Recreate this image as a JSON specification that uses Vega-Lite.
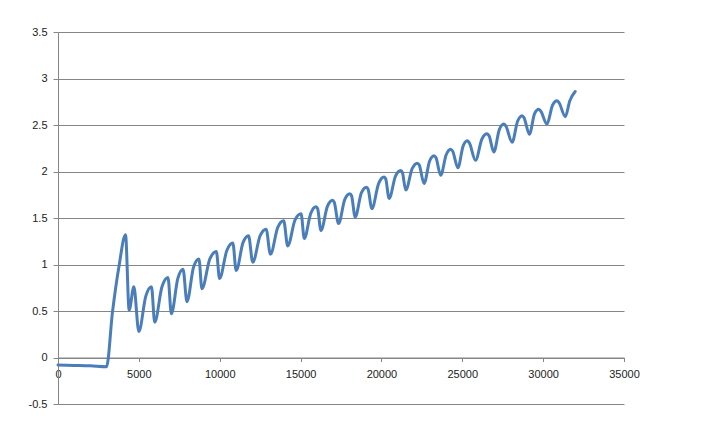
{
  "$schema": "https://vega.github.io/schema/vega-lite/v6.json",
  "width": 566,
  "height": 372,
  "autosize": "none",
  "padding": {"left": 58, "top": 32, "right": 78, "bottom": 19},
  "background": "white",
  "config": {
    "view": {"stroke": null},
    "font": "Liberation Sans",
    "axis": {"labelFont": "Liberation Sans", "labelFontSize": 11, "labelColor": "#222222"}
  },
  "data": {
    "values": [
      {"x": 0, "y": -0.08}, {"x": 1000, "y": -0.085}, {"x": 2000, "y": -0.09}, {"x": 3000, "y": -0.1},
      {"x": 3370, "y": 0.49}, {"x": 3780, "y": 0.99}, {"x": 4175, "y": 1.32},
      {"x": 4400, "y": 0.51}, {"x": 4690, "y": 0.76}, {"x": 5000, "y": 0.28},
      {"x": 5430, "y": 0.66}, {"x": 5780, "y": 0.76}, {"x": 5980, "y": 0.38},
      {"x": 6430, "y": 0.76}, {"x": 6800, "y": 0.86}, {"x": 7010, "y": 0.47},
      {"x": 7410, "y": 0.85}, {"x": 7730, "y": 0.95}, {"x": 7975, "y": 0.6},
      {"x": 8380, "y": 0.97}, {"x": 8715, "y": 1.06}, {"x": 8900, "y": 0.74},
      {"x": 9390, "y": 1.06}, {"x": 9790, "y": 1.14}, {"x": 9990, "y": 0.85},
      {"x": 10440, "y": 1.15}, {"x": 10810, "y": 1.23}, {"x": 11020, "y": 0.935},
      {"x": 11440, "y": 1.235}, {"x": 11780, "y": 1.31}, {"x": 12045, "y": 1.025},
      {"x": 12500, "y": 1.31}, {"x": 12870, "y": 1.38}, {"x": 13135, "y": 1.11},
      {"x": 13590, "y": 1.4}, {"x": 13955, "y": 1.47}, {"x": 14205, "y": 1.2},
      {"x": 14660, "y": 1.48}, {"x": 15030, "y": 1.545}, {"x": 15230, "y": 1.28},
      {"x": 15630, "y": 1.55}, {"x": 15955, "y": 1.62}, {"x": 16055, "y": 1.6}, {"x": 16260, "y": 1.365},
      {"x": 16660, "y": 1.625}, {"x": 16980, "y": 1.69}, {"x": 17080, "y": 1.67}, {"x": 17350, "y": 1.44},
      {"x": 17735, "y": 1.7}, {"x": 18050, "y": 1.76}, {"x": 18150, "y": 1.74}, {"x": 18380, "y": 1.51},
      {"x": 18760, "y": 1.77}, {"x": 19075, "y": 1.83}, {"x": 19175, "y": 1.81}, {"x": 19410, "y": 1.6},
      {"x": 19825, "y": 1.87}, {"x": 20165, "y": 1.94}, {"x": 20265, "y": 1.92}, {"x": 20475, "y": 1.71},
      {"x": 20870, "y": 1.95}, {"x": 21195, "y": 2.01}, {"x": 21295, "y": 1.99}, {"x": 21505, "y": 1.8},
      {"x": 21900, "y": 2.03}, {"x": 22220, "y": 2.09}, {"x": 22340, "y": 2.07}, {"x": 22635, "y": 1.87},
      {"x": 22975, "y": 2.11}, {"x": 23250, "y": 2.17}, {"x": 23370, "y": 2.15}, {"x": 23665, "y": 1.96},
      {"x": 24005, "y": 2.18}, {"x": 24280, "y": 2.24}, {"x": 24400, "y": 2.22}, {"x": 24730, "y": 2.04},
      {"x": 25045, "y": 2.27}, {"x": 25305, "y": 2.33}, {"x": 25430, "y": 2.31}, {"x": 25820, "y": 2.12},
      {"x": 26215, "y": 2.35}, {"x": 26535, "y": 2.405}, {"x": 26655, "y": 2.385}, {"x": 26950, "y": 2.21},
      {"x": 27290, "y": 2.45}, {"x": 27565, "y": 2.51}, {"x": 27690, "y": 2.49}, {"x": 28080, "y": 2.315},
      {"x": 28420, "y": 2.54}, {"x": 28695, "y": 2.6}, {"x": 28815, "y": 2.58}, {"x": 29150, "y": 2.4},
      {"x": 29465, "y": 2.62}, {"x": 29725, "y": 2.67}, {"x": 29850, "y": 2.65}, {"x": 30235, "y": 2.51},
      {"x": 30575, "y": 2.71}, {"x": 30855, "y": 2.76}, {"x": 30980, "y": 2.74}, {"x": 31370, "y": 2.59},
      {"x": 31650, "y": 2.76}, {"x": 31980, "y": 2.86}
    ]
  },
  "mark": {"type": "line", "color": "#4A7EBB", "strokeWidth": 3, "interpolate": "monotone", "strokeJoin": "round", "strokeCap": "round"},
  "encoding": {
    "x": {
      "field": "x", "type": "quantitative",
      "scale": {"domain": [0, 35000], "nice": false, "zero": false},
      "axis": {
        "title": null, "values": [0, 5000, 10000, 15000, 20000, 25000, 30000, 35000],
        "labelExpr": "datum.value + ''", "offset": -46.5, "grid": false,
        "domainColor": "#868686", "tickColor": "#868686", "tickSize": 4, "labelPadding": 7,
        "labelFlush": false, "labelOverlap": false
      }
    },
    "y": {
      "field": "y", "type": "quantitative",
      "scale": {"domain": [-0.5, 3.5], "nice": false, "zero": false},
      "axis": {
        "title": null, "values": [-0.5, 0, 0.5, 1, 1.5, 2, 2.5, 3, 3.5],
        "labelExpr": "datum.value + ''", "grid": true, "gridColor": "#868686", "gridOpacity": 1,
        "domainColor": "#868686", "tickColor": "#868686", "tickSize": 5, "labelPadding": 6,
        "labelFlush": false, "labelOverlap": false
      }
    }
  }
}
